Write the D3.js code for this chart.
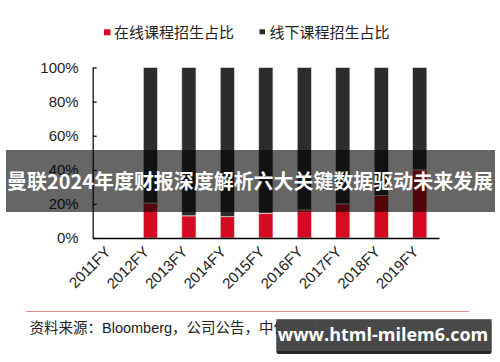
<!DOCTYPE html>
<html>
<head>
<meta charset="utf-8">
<script src="https://cdn.jsdelivr.net/npm/d3@7"></script>
<style>
  html, body { margin: 0; padding: 0; background: #fff; }
  svg { display: block; }
</style>
</head>
<body>
<svg id="chart" width="500" height="362"></svg>
<script>
// values (percent of intake)
const years = ["2011FY", "2012FY", "2013FY", "2014FY", "2015FY", "2016FY", "2017FY", "2018FY", "2019FY"];
const online = [null, 20.5, 13, 12.5, 14.5, 16.5, 20, 25, 40];
const offline = [null, 79.5, 87, 87.5, 85.5, 83.5, 80, 75, 60];
const yTicks = [0, 20, 40, 60, 80, 100];
const legendNames = ["在线课程招生占比", "线下课程招生占比"];
const colors = ["#d60a20", "#2c2c2c"];

const latin = "'Liberation Sans', Arial, 'Noto Sans CJK SC', sans-serif";
const cjk = "'Noto Sans CJK SC', 'Liberation Sans', sans-serif";

const svg = d3.select("#chart");

const x = d3.scaleBand()
  .domain(years)
  .range([92.7, 439])
  .paddingInner(0.63)
  .paddingOuter(0.315);
const y = d3.scaleLinear().domain([0, 100]).range([238, 67.5]);

// stacked bars
const rows = years.map((yr, i) => ({ year: yr, online: online[i], offline: offline[i] }))
  .filter(d => d.online != null);
const series = d3.stack().keys(["online", "offline"])(rows);

svg.append("g")
  .selectAll("g")
  .data(series)
  .join("g")
    .attr("fill", (d, i) => colors[i])
  .selectAll("rect")
  .data(d => d)
  .join("rect")
    .attr("x", d => x(d.data.year))
    .attr("width", x.bandwidth())
    .attr("y", d => y(d[1]))
    .attr("height", d => y(d[0]) - y(d[1]))
    .attr("stroke", "#e2e2e2")
    .attr("stroke-width", 0.7);

// y axis
const yAxis = svg.append("g")
  .attr("transform", "translate(92.7,0)")
  .call(d3.axisLeft(y).tickValues(yTicks).tickFormat(d => d + "%").tickSizeInner(-4).tickSizeOuter(0).tickPadding(14));
yAxis.select(".domain").attr("stroke", "#000").attr("stroke-width", 1.2);
yAxis.selectAll(".tick line").attr("stroke", "#000").attr("stroke-width", 1.2);
yAxis.selectAll("text")
  .attr("font-family", latin)
  .attr("font-size", 15)
  .attr("fill", "#222");

// x axis, labels slanted up to the right and ending under the bar
const xAxis = svg.append("g")
  .attr("transform", "translate(0,238)")
  .call(d3.axisBottom(x).tickSize(0).tickPadding(0));
xAxis.select(".domain").attr("stroke", "#000").attr("stroke-width", 1.6);
xAxis.selectAll("text")
  .attr("font-family", latin)
  .attr("font-size", 15)
  .attr("fill", "#222")
  .attr("text-anchor", "end")
  .attr("x", 0).attr("y", 0)
  .attr("dy", "0.35em")
  .attr("transform", "translate(-4,11) rotate(-45)");

// legend
const legend = svg.append("g")
  .attr("font-family", cjk)
  .attr("font-size", 15)
  .attr("fill", "#222");
const legendX = [104, 259.5];
legendNames.forEach((name, i) => {
  const g = legend.append("g").attr("transform", `translate(${legendX[i]},0)`);
  g.append("rect")
    .attr("x", 0).attr("y", 29.3)
    .attr("width", i === 0 ? 6.5 : 5.5).attr("height", i === 0 ? 6 : 5)
    .attr("fill", colors[i]);
  g.append("text")
    .attr("x", 10).attr("y", 37.8)
    .text(name);
});

// footer
svg.append("line")
  .attr("x1", 26).attr("x2", 469)
  .attr("y1", 311.5).attr("y2", 311.5)
  .attr("stroke", "#e98a8f")
  .attr("stroke-width", 1);
svg.append("text")
  .attr("x", 29.5).attr("y", 333)
  .attr("font-family", latin)
  .attr("font-size", 14.5)
  .attr("fill", "#222")
  .text("资料来源：Bloomberg，公司公告，中信证券研究部");

// title banner overlay
svg.append("rect")
  .attr("x", 6).attr("y", 150)
  .attr("width", 489).attr("height", 62)
  .attr("fill", "rgba(0,0,0,0.6)");
svg.append("text")
  .attr("x", 7).attr("y", 189)
  .attr("font-family", cjk)
  .attr("font-weight", "bold")
  .attr("font-size", 20.5)
  .attr("textLength", 486)
  .attr("lengthAdjust", "spacingAndGlyphs")
  .attr("fill", "#fff")
  .text("曼联2024年度财报深度解析六大关键数据驱动未来发展");

// watermark
svg.append("rect")
  .attr("x", 276.5).attr("y", 320)
  .attr("width", 215).attr("height", 34)
  .attr("rx", 2)
  .attr("fill", "rgba(0,0,0,0.85)");
svg.append("rect")
  .attr("x", 276.5).attr("y", 319)
  .attr("width", 215).attr("height", 32)
  .attr("fill", "rgba(80,80,80,0.85)");
svg.append("text")
  .attr("x", 383).attr("y", 341)
  .attr("text-anchor", "middle")
  .attr("font-family", "'Open Sans', 'DejaVu Sans', sans-serif")
  .attr("font-weight", "bold")
  .attr("font-size", 18)
  .attr("fill", "#fff")
  .text("www.html-milem6.com");
</script>
</body>
</html>
